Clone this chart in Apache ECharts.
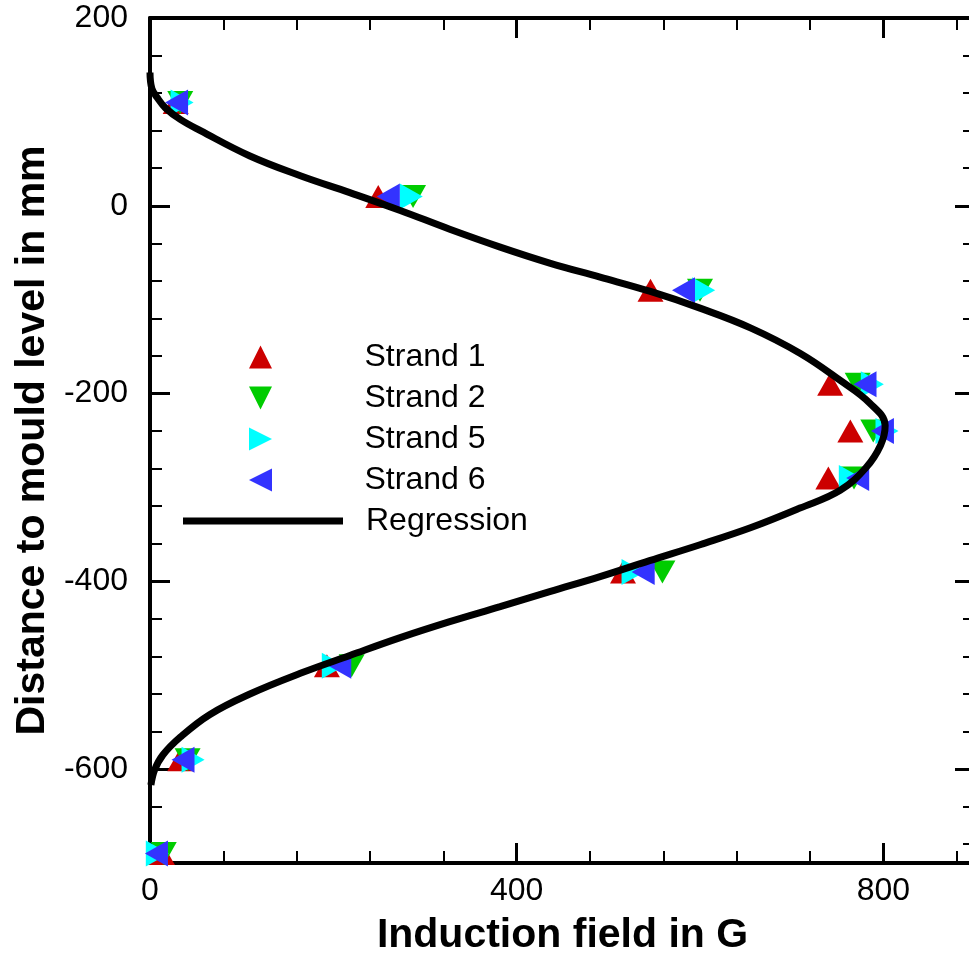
<!DOCTYPE html>
<html>
<head>
<meta charset="utf-8">
<script src="https://cdn.jsdelivr.net/npm/echarts@6/dist/echarts.min.js"></script>
<style>
  html, body { margin: 0; padding: 0; background: #fff; }
  #chart { width: 969px; height: 956px; }
</style>
</head>
<body>
<div id="chart"></div>
<script>
// Measurement depths (mm relative to mould level)
const depths = [110, 10, -90, -190, -240, -290, -390, -490, -590, -690];

// Induction field (G) per strand at each depth
const strand1 = [28, 249, 546, 742, 764, 740, 516, 193, 33, 13];
const strand2 = [33, 287, 600, 772, 789, 768, 559, 220, 41, 15];
const strand5 = [35, 285, 604, 788, 804, 764, 527, 200, 47, 8];
const strand6 = [29, 260, 582, 780, 799, 772, 538, 207, 36, 7];

// Regression curve, field (G) and depth (mm)
const regField = [0, 2, 8, 17, 33, 55, 109, 164, 218, 273, 327, 382, 436, 491, 545, 600, 655, 709, 753, 785, 802, 797, 781, 753, 709, 655, 600, 545, 491, 436, 382, 327, 273, 218, 164, 109, 65, 33, 14, 5, 1];
const regDepth = [142, 125, 115, 104, 92, 80, 53, 32, 14, -5, -25, -44, -61, -76, -91, -109, -130, -157, -186, -210, -234, -255, -279, -303, -322, -343, -361, -378, -395, -411, -427, -443, -460, -479, -498, -520, -542, -566, -585, -601, -617];

// Tick values
const xMajor = [0, 400, 800];
const xMinor = [80, 160, 240, 320, 480, 560, 640, 720, 880];
const yMajor = [-600, -400, -200, 0, 200];
const yMinor = [-680, -640, -560, -520, -480, -440, -360, -320, -280, -240, -160, -120, -80, -40, 40, 80, 120, 160];

const FONT = "'Liberation Sans', Arial, Helvetica, sans-serif";

const ICON_UP = 'path://M1,0L2,2L0,2Z';
const ICON_DOWN = 'path://M0,0L2,0L1,2Z';
const ICON_RIGHT = 'path://M0,0L2,1L0,2Z';
const ICON_LEFT = 'path://M2,0L0,1L2,2Z';

function pairs(xs, ys) {
  return xs.map((x, i) => [x, ys[i]]);
}

function axisBase(position, ticks, tickLen, tickW, showLine, labels) {
  const vertical = position === 'left' || position === 'right';
  return {
    type: 'value',
    position: position,
    min: vertical ? -700 : 0,
    max: vertical ? 200 : 900,
    splitLine: { show: false },
    axisLine: { show: showLine, onZero: false, lineStyle: { color: '#000', width: 4 } },
    axisTick: {
      show: true, inside: true, length: tickLen, customValues: ticks,
      lineStyle: { color: '#000', width: tickW }
    },
    axisLabel: labels ? {
      show: true, customValues: labels, color: '#000',
      fontSize: 32, fontFamily: FONT
    } : { show: false }
  };
}

const xBottom = axisBase('bottom', xMajor, 20, 3, true, xMajor);
xBottom.axisLabel.margin = 12;
xBottom.name = 'Induction field in G';
xBottom.nameLocation = 'middle';
xBottom.nameGap = 52;
xBottom.nameTextStyle = { color: '#000', fontSize: 41, fontWeight: 'bold', fontFamily: FONT };

const yLeft = axisBase('left', yMajor, 20, 3, true, yMajor);
yLeft.axisLabel.margin = 22;
yLeft.name = 'Distance to mould level in mm';
yLeft.nameLocation = 'middle';
yLeft.nameGap = 96;
yLeft.nameTextStyle = { color: '#000', fontSize: 41, fontWeight: 'bold', fontFamily: FONT };

const option = {
  animation: false,
  backgroundColor: '#fff',
  grid: { left: 150, right: -6, top: 18, bottom: 93, containLabel: false, outerBoundsMode: 'none' },
  xAxis: [
    xBottom,
    axisBase('bottom', xMinor, 12, 2, false, null),
    axisBase('top', xMajor, 20, 3, true, null),
    axisBase('top', xMinor, 12, 2, false, null)
  ],
  yAxis: [
    yLeft,
    axisBase('left', yMinor, 12, 2, false, null),
    axisBase('right', yMajor, 20, 3, true, null),
    axisBase('right', yMinor, 12, 2, false, null)
  ],
  legend: [
    {
      orient: 'vertical', left: 244, top: 336,
      itemWidth: 26, itemHeight: 23, itemGap: 9,
      selectedMode: false,
      textStyle: { color: '#000', fontSize: 32, fontFamily: FONT, lineHeight: 32, padding: [0, 0, 0, 86] },
      data: [
        { name: 'Strand 1', icon: ICON_UP },
        { name: 'Strand 2', icon: ICON_DOWN },
        { name: 'Strand 5', icon: ICON_RIGHT },
        { name: 'Strand 6', icon: ICON_LEFT }
      ]
    },
    {
      orient: 'vertical', left: 178, top: 500,
      itemWidth: 160, itemHeight: 7,
      selectedMode: false,
      textStyle: { color: '#000', fontSize: 32, fontFamily: FONT, lineHeight: 32, padding: [0, 0, 0, 18] },
      data: [{ name: 'Regression', icon: 'rect' }]
    }
  ],
  series: [
    {
      name: 'Strand 1', type: 'scatter', clip: false,
      symbol: ICON_UP, symbolSize: [26, 23], symbolKeepAspect: false,
      itemStyle: { color: '#cc0000', opacity: 1 },
      data: pairs(strand1, depths), z: 2
    },
    {
      name: 'Strand 2', type: 'scatter', clip: false,
      symbol: ICON_DOWN, symbolSize: [26, 23], symbolKeepAspect: false,
      itemStyle: { color: '#00cc00', opacity: 1 },
      data: pairs(strand2, depths), z: 3
    },
    {
      name: 'Strand 5', type: 'scatter', clip: false,
      symbol: ICON_RIGHT, symbolSize: [23, 26], symbolKeepAspect: false,
      itemStyle: { color: '#00ffff', opacity: 1 },
      data: pairs(strand5, depths), z: 4
    },
    {
      name: 'Strand 6', type: 'scatter', clip: false,
      symbol: ICON_LEFT, symbolSize: [23, 26], symbolKeepAspect: false,
      itemStyle: { color: '#3333ff', opacity: 1 },
      data: pairs(strand6, depths), z: 5
    },
    {
      name: 'Regression', type: 'line', clip: false,
      showSymbol: false, symbol: 'none', smooth: 0.4,
      color: '#000',
      itemStyle: { color: '#000' },
      lineStyle: { color: '#000', width: 7 },
      data: pairs(regField, regDepth), z: 6
    }
  ]
};

const chart = echarts.init(document.getElementById('chart'), null, { renderer: 'canvas' });
chart.setOption(option);
</script>
</body>
</html>
